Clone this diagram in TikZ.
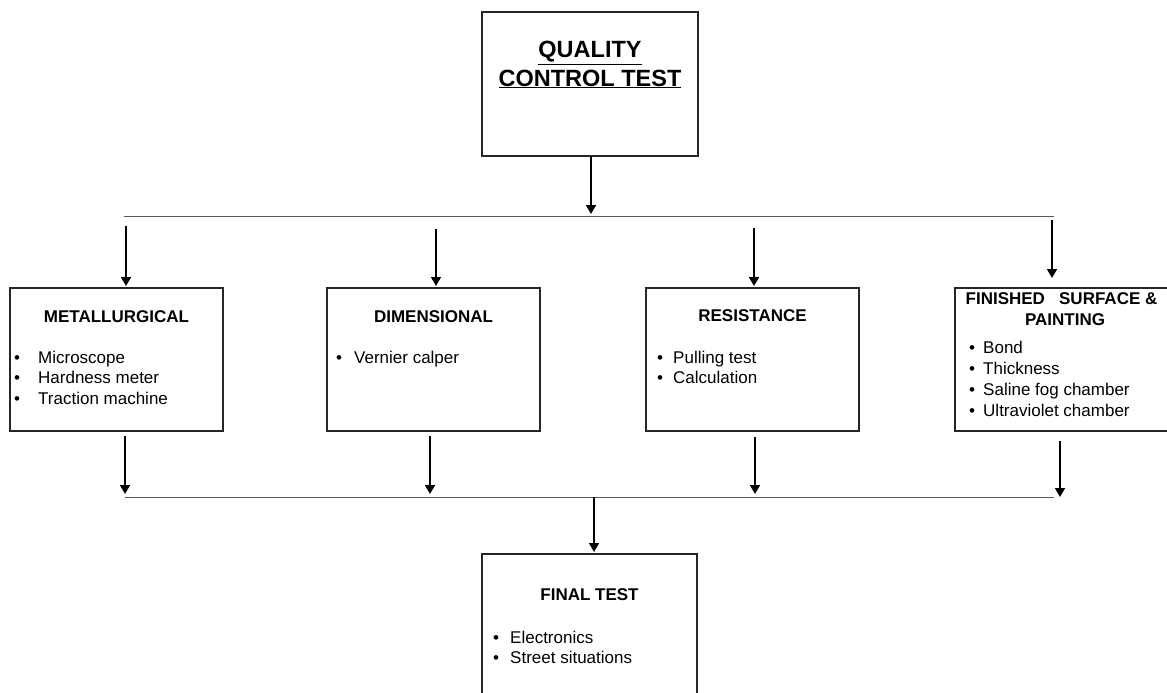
\documentclass[tikz,border=0pt]{standalone}
\usepackage{fontspec}
\setmainfont{Liberation Sans}
\usetikzlibrary{arrows.meta}
\tikzset{
  box/.style={draw=black!85, line width=1.2pt, inner sep=0pt, outer sep=0pt},
  arr/.style={draw=black, line width=1.6pt, -{Triangle[width=10pt,length=9pt]}},
  hline/.style={draw=black!65, line width=1pt},
  head/.style={inner sep=0pt, anchor=base, font=\fontsize{17}{20}\selectfont\bfseries},
  ttl/.style={inner sep=0pt, anchor=base, font=\fontsize{23.5}{28}\selectfont\bfseries},
  bul/.style={inner sep=0pt, anchor=base, font=\fontsize{17}{20}\selectfont},
  itm/.style={inner sep=0pt, anchor=base west, font=\fontsize{17}{20}\selectfont},
}
\newcommand\bitem[5]{\node[bul] (#1b) at (#2,#4) {•}; \node[itm] (#1) at (#3,#4) {#5};}
\begin{document}
\begin{tikzpicture}[x=1pt,y=-1pt]
\useasboundingbox[fill=white] (0,0) rectangle (1167,693);
% boxes
\node[box, minimum width=216pt, minimum height=144pt] (qc) at (590,84) {};
\node[box, minimum width=213pt, minimum height=143pt] (met) at (116.5,359.5) {};
\node[box, minimum width=213pt, minimum height=143pt] (dim) at (433.5,359.5) {};
\node[box, minimum width=213pt, minimum height=143pt] (res) at (752.5,359.5) {};
\node[box, minimum width=215pt, minimum height=143pt] (fin) at (1062.5,359.5) {};
\node[box, minimum width=215pt, minimum height=170pt] (fnl) at (589.5,639) {};
% titles
\node[ttl] (t1) at (590,58) {\underline{QUALITY}};
\node[ttl] (t2) at (590,86) {\underline{CONTROL TEST}};
\node[head] (h1) at (116.5,322) {METALLURGICAL};
\node[head] (h2) at (433.5,322) {DIMENSIONAL};
\node[head] (h3) at (752.5,321) {RESISTANCE};
\node[head] (h4) at (1061.5,304) {FINISHED\ \ \ SURFACE \&};
\node[head] (h5) at (1065,325) {PAINTING};
\node[head] (h6) at (589.5,600) {FINAL TEST};
% items
\bitem{m1}{17}{38}{363}{Microscope}
\bitem{m2}{17}{38}{383}{Hardness meter}
\bitem{m3}{17}{38}{404}{Traction machine}
\bitem{d1}{339}{354}{363}{Vernier calper}
\bitem{r1}{660}{673}{363}{Pulling test}
\bitem{r2}{660}{673}{383}{Calculation}
\bitem{f1}{972}{983}{353}{Bond}
\bitem{f2}{972}{983}{374}{Thickness}
\bitem{f3}{972}{983}{395}{Saline fog chamber}
\bitem{f4}{972}{983}{416}{Ultraviolet chamber}
\bitem{e1}{496}{510}{643}{Electronics}
\bitem{e2}{496}{510}{663}{Street situations}
% top distribution
\coordinate (tl1) at (124,216);
\coordinate (tl2) at (1054,216);
\coordinate (t0) at (591,214);
\draw[hline] (tl1) -- (tl2);
\draw[arr] (qc.south -| t0) -- (t0);
\coordinate (a1) at (126,226);
\coordinate (a2) at (436,229);
\coordinate (a3) at (754,228);
\coordinate (a4) at (1052,220);
\draw[arr, shorten >=2pt] (a1) -- (a1 |- met.north);
\draw[arr, shorten >=2pt] (a2) -- (a2 |- dim.north);
\draw[arr, shorten >=2pt] (a3) -- (a3 |- res.north);
\draw[arr, shorten >=10pt] (a4) -- (a4 |- fin.north);
% bottom collection
\coordinate (bl1) at (125,497);
\coordinate (bl2) at (1054,497);
\draw[hline] (bl1) -- (bl2);
\coordinate (b1) at (125,494);
\coordinate (b2) at (430,494);
\coordinate (b3) at (755,494);
\coordinate (b4) at (1060,497);
\draw[arr, shorten <=5pt] (b1 |- met.south) -- (b1);
\draw[arr, shorten <=5pt] (b2 |- dim.south) -- (b2);
\draw[arr, shorten <=6pt] (b3 |- res.south) -- (b3);
\draw[arr, shorten <=10pt] (b4 |- fin.south) -- (b4);
\coordinate (c0) at (594,497);
\draw[arr, shorten >=2pt] (c0) -- (c0 |- fnl.north);
\end{tikzpicture}
\end{document}
